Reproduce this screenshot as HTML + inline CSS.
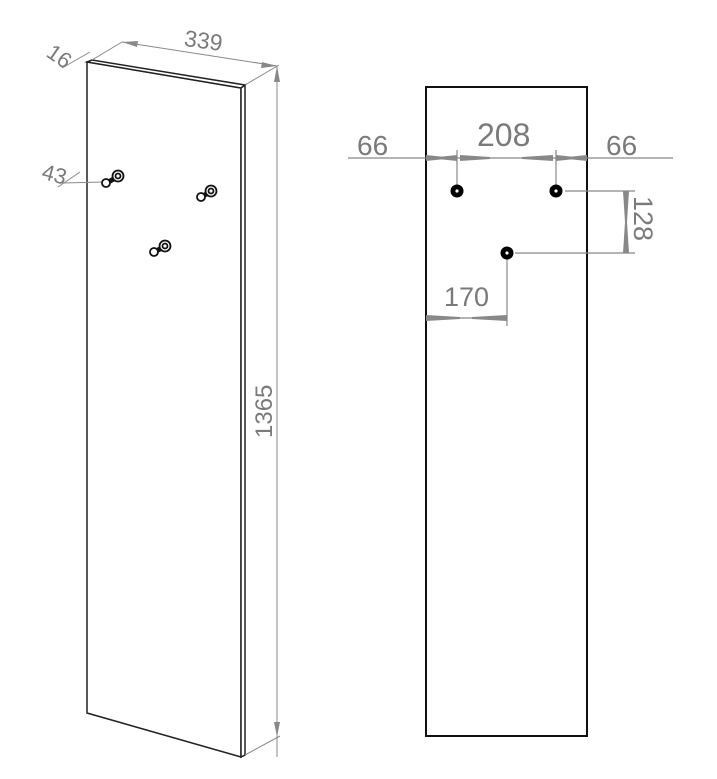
<!DOCTYPE html>
<html><head><style>body{margin:0;background:#fff}svg{display:block}text{font-family:"Liberation Sans",sans-serif;fill:#7a7a7a}</style></head>
<body>
<svg width="717" height="779" viewBox="0 0 717 779">
<g stroke="#222" fill="none" stroke-width="1.5">
<polygon points="87,62 241,88 241,757 87,713" fill="#fff"/>
<polygon points="87,62 92,60 245,85 241,88" fill="#fff"/>
<polygon points="241,88 245,85 245,755 241,757" fill="#fff"/>
</g>
<g stroke="#888" stroke-width="1" fill="none">
<line x1="92" y1="60" x2="122" y2="42"/><line x1="245" y1="85" x2="279" y2="65"/>
<line x1="122" y1="42" x2="277" y2="66"/>
<line x1="277" y1="66" x2="277" y2="757"/><line x1="245" y1="755" x2="280" y2="736"/>
<line x1="62" y1="68" x2="90" y2="52"/>
<line x1="62" y1="183" x2="105" y2="182"/><line x1="58" y1="187" x2="80" y2="172"/>
</g>
<g fill="#888">
<polygon points="122,42 138,41 137,47"/><polygon points="277,66 261,68 262,62"/>
<polygon points="277,66 274,82 280,82"/><polygon points="277,737 274,722 280,722"/>
</g>
<text x="0" y="0" font-size="24" transform="translate(272,438) rotate(-90)">1365</text>
<text x="184" y="48" font-size="23" transform="rotate(8 200 42)">339</text>
<text x="48" y="64" font-size="22" transform="rotate(35 60 55)">16</text>
<text x="42" y="182" font-size="22" transform="rotate(15 55 175)">43</text>
<g stroke="#111" stroke-width="1.8" fill="#fff">
<line x1="105" y1="184" x2="117" y2="177" stroke-width="5"/>
<circle cx="118" cy="176" r="5.5"/><circle cx="118" cy="176" r="2.5"/><circle cx="106" cy="183" r="4"/>
<line x1="201" y1="197" x2="210" y2="192" stroke-width="5"/>
<circle cx="211" cy="191" r="5.5"/><circle cx="211" cy="191" r="2.5"/><circle cx="201" cy="197" r="4"/>
<line x1="154" y1="252" x2="164" y2="247" stroke-width="5"/>
<circle cx="165" cy="246" r="5.5"/><circle cx="165" cy="246" r="2.5"/><circle cx="154" cy="252" r="4"/>
</g>
<rect x="426" y="87" width="161" height="649" fill="#fff" stroke="#111" stroke-width="2"/>
<g stroke="#888" stroke-width="1.2" fill="none">
<line x1="348" y1="158" x2="673" y2="158"/>
<line x1="457" y1="150" x2="457" y2="188"/><line x1="556" y1="150" x2="556" y2="188"/>
<line x1="565" y1="191" x2="635" y2="191"/><line x1="515" y1="253" x2="635" y2="253"/>
<line x1="626" y1="191" x2="626" y2="253"/>
<line x1="426" y1="318" x2="507" y2="318"/><line x1="507" y1="258" x2="507" y2="326"/>
</g>
<g fill="#888">
<polygon points="426,155 445,157 445,159 426,161"/><polygon points="457,155 438,157 438,159 457,161"/>
<polygon points="460,155 490,157 490,159 460,161"/><polygon points="553,155 522,157 522,159 553,161"/>
<polygon points="556,155 575,157 575,159 556,161"/><polygon points="587,155 568,157 568,159 587,161"/>
<polygon points="623,191 625,222 627,222 629,191"/><polygon points="623,253 625,222 627,222 629,253"/>
<polygon points="426,315 460,317 460,319 426,321"/><polygon points="507,315 472,317 472,319 507,321"/>
</g>
<text x="357" y="155" font-size="28">66</text>
<text x="606" y="155" font-size="28">66</text>
<text x="477" y="146" font-size="32">208</text>
<text x="444" y="306" font-size="27">170</text>
<text x="0" y="0" font-size="27" transform="translate(634,196) rotate(90)">128</text>
<g fill="#000"><circle cx="457" cy="191" r="6.5"/><circle cx="556" cy="191" r="6.5"/><circle cx="507" cy="253" r="6.5"/></g>
<g fill="#fff"><circle cx="457" cy="191" r="1.6"/><circle cx="556" cy="191" r="1.6"/><circle cx="507" cy="253" r="1.6"/></g>
</svg>
</body></html>
